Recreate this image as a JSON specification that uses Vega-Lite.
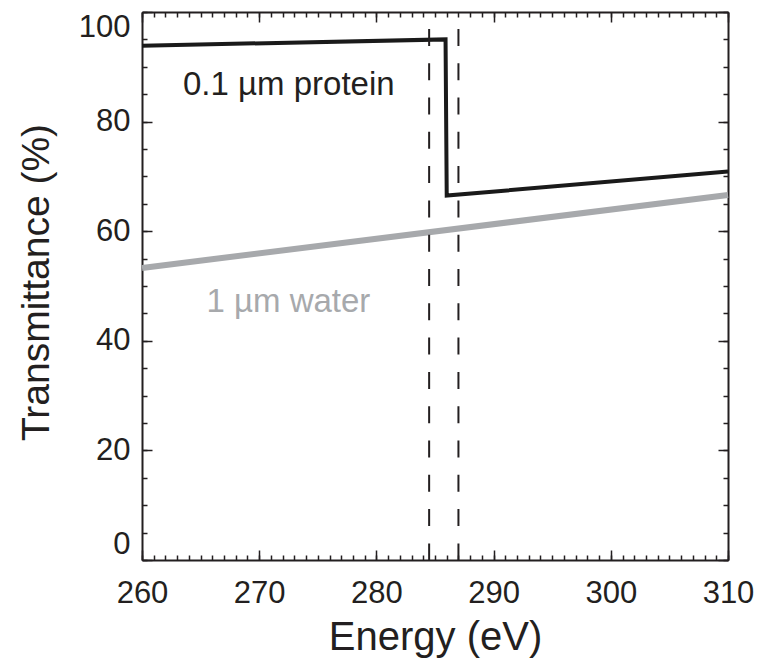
{
  "$schema": "https://vega.github.io/schema/vega-lite/v6.json",
  "width": 586,
  "height": 548,
  "autosize": "none",
  "padding": {"left": 142, "top": 12, "right": 38, "bottom": 99},
  "background": "white",
  "config": {
    "view": {"stroke": null},
    "font": "Liberation Sans",
    "axis": {
      "grid": false,
      "labelFont": "Liberation Sans",
      "titleFont": "Liberation Sans",
      "labelColor": "#231f20",
      "titleColor": "#231f20",
      "tickColor": "#231f20",
      "domainColor": "#231f20",
      "tickWidth": 1.5,
      "domainWidth": 2,
      "titleFontWeight": "normal",
      "labelFontSize": 31,
      "titleFontSize": 40
    }
  },
  "resolve": {"axis": {"x": "independent", "y": "independent"}},
  "layer": [
    {
      "data": {"values": [
        {"E": 260, "T": 93.85},
        {"E": 285.9, "T": 95.0},
        {"E": 286.0, "T": 66.5},
        {"E": 310, "T": 70.9}
      ]},
      "mark": {"type": "line", "color": "#1a1a1a", "strokeWidth": 4, "strokeJoin": "miter", "strokeCap": "butt"},
      "encoding": {
        "x": {"field": "E", "type": "quantitative", "scale": {"domain": [260, 310], "nice": false},
          "axis": {"orient": "bottom", "title": "Energy (eV)", "values": [260, 270, 280, 290, 300, 310], "tickSize": -10, "labelPadding": 28, "titlePadding": 9, "labelFlush": false, "labelOverlap": false}},
        "y": {"field": "T", "type": "quantitative", "scale": {"domain": [0, 100], "nice": false, "zero": true},
          "axis": {"orient": "left", "title": "Transmittance (%)", "titleFontSize": 39, "titleY": 270, "values": [0, 20, 40, 60, 80, 100], "tickSize": -10, "labelPadding": 22, "titlePadding": 22, "labelFlush": true, "labelOverlap": false}}
      }
    },
    {
      "data": {"values": [
        {"E": 260, "T": 53.3},
        {"E": 310, "T": 66.6}
      ]},
      "mark": {"type": "line", "color": "#a7a9ac", "strokeWidth": 6, "strokeCap": "butt"},
      "encoding": {
        "x": {"field": "E", "type": "quantitative",
          "axis": {"orient": "bottom", "title": null, "labels": false, "domain": false, "tickSize": -5,
            "values": [260,261,262,263,264,265,266,267,268,269,270,271,272,273,274,275,276,277,278,279,280,281,282,283,284,285,286,287,288,289,290,291,292,293,294,295,296,297,298,299,300,301,302,303,304,305,306,307,308,309,310]}},
        "y": {"field": "T", "type": "quantitative",
          "axis": {"orient": "left", "title": null, "labels": false, "domain": false, "tickSize": -5,
            "values": [0,5,10,15,20,25,30,35,40,45,50,55,60,65,70,75,80,85,90,95,100]}}
      }
    },
    {
      "data": {"values": [{"E": 284.5}, {"E": 287.0}]},
      "mark": {"type": "rule", "color": "#231f20", "strokeWidth": 2, "strokeDash": [17, 17.3], "strokeDashOffset": 17.4},
      "encoding": {
        "x": {"field": "E", "type": "quantitative",
          "axis": {"orient": "top", "title": null, "labels": false, "tickSize": -10, "values": [260, 270, 280, 290, 300, 310]}}
      }
    },
    {
      "data": {"values": [{"E": 263.5, "T": 84.9, "label": "0.1 µm protein"}]},
      "mark": {"type": "text", "align": "left", "baseline": "alphabetic", "fontSize": 33, "font": "Liberation Sans", "color": "#231f20"},
      "encoding": {
        "x": {"field": "E", "type": "quantitative",
          "axis": {"orient": "top", "title": null, "labels": false, "domain": false, "tickSize": -5,
            "values": [260,261,262,263,264,265,266,267,268,269,270,271,272,273,274,275,276,277,278,279,280,281,282,283,284,285,286,287,288,289,290,291,292,293,294,295,296,297,298,299,300,301,302,303,304,305,306,307,308,309,310]}},
        "y": {"field": "T", "type": "quantitative",
          "axis": {"orient": "right", "title": null, "labels": false, "tickSize": -10, "values": [0, 20, 40, 60, 80, 100]}},
        "text": {"field": "label"}
      }
    },
    {
      "data": {"values": [{"E": 265.5, "T": 45.3, "label": "1 µm water"}]},
      "mark": {"type": "text", "align": "left", "baseline": "alphabetic", "fontSize": 33, "font": "Liberation Sans", "color": "#a7a9ac"},
      "encoding": {
        "x": {"field": "E", "type": "quantitative", "axis": null},
        "y": {"field": "T", "type": "quantitative",
          "axis": {"orient": "right", "title": null, "labels": false, "domain": false, "tickSize": -5,
            "values": [0,5,10,15,20,25,30,35,40,45,50,55,60,65,70,75,80,85,90,95,100]}},
        "text": {"field": "label"}
      }
    }
  ]
}
